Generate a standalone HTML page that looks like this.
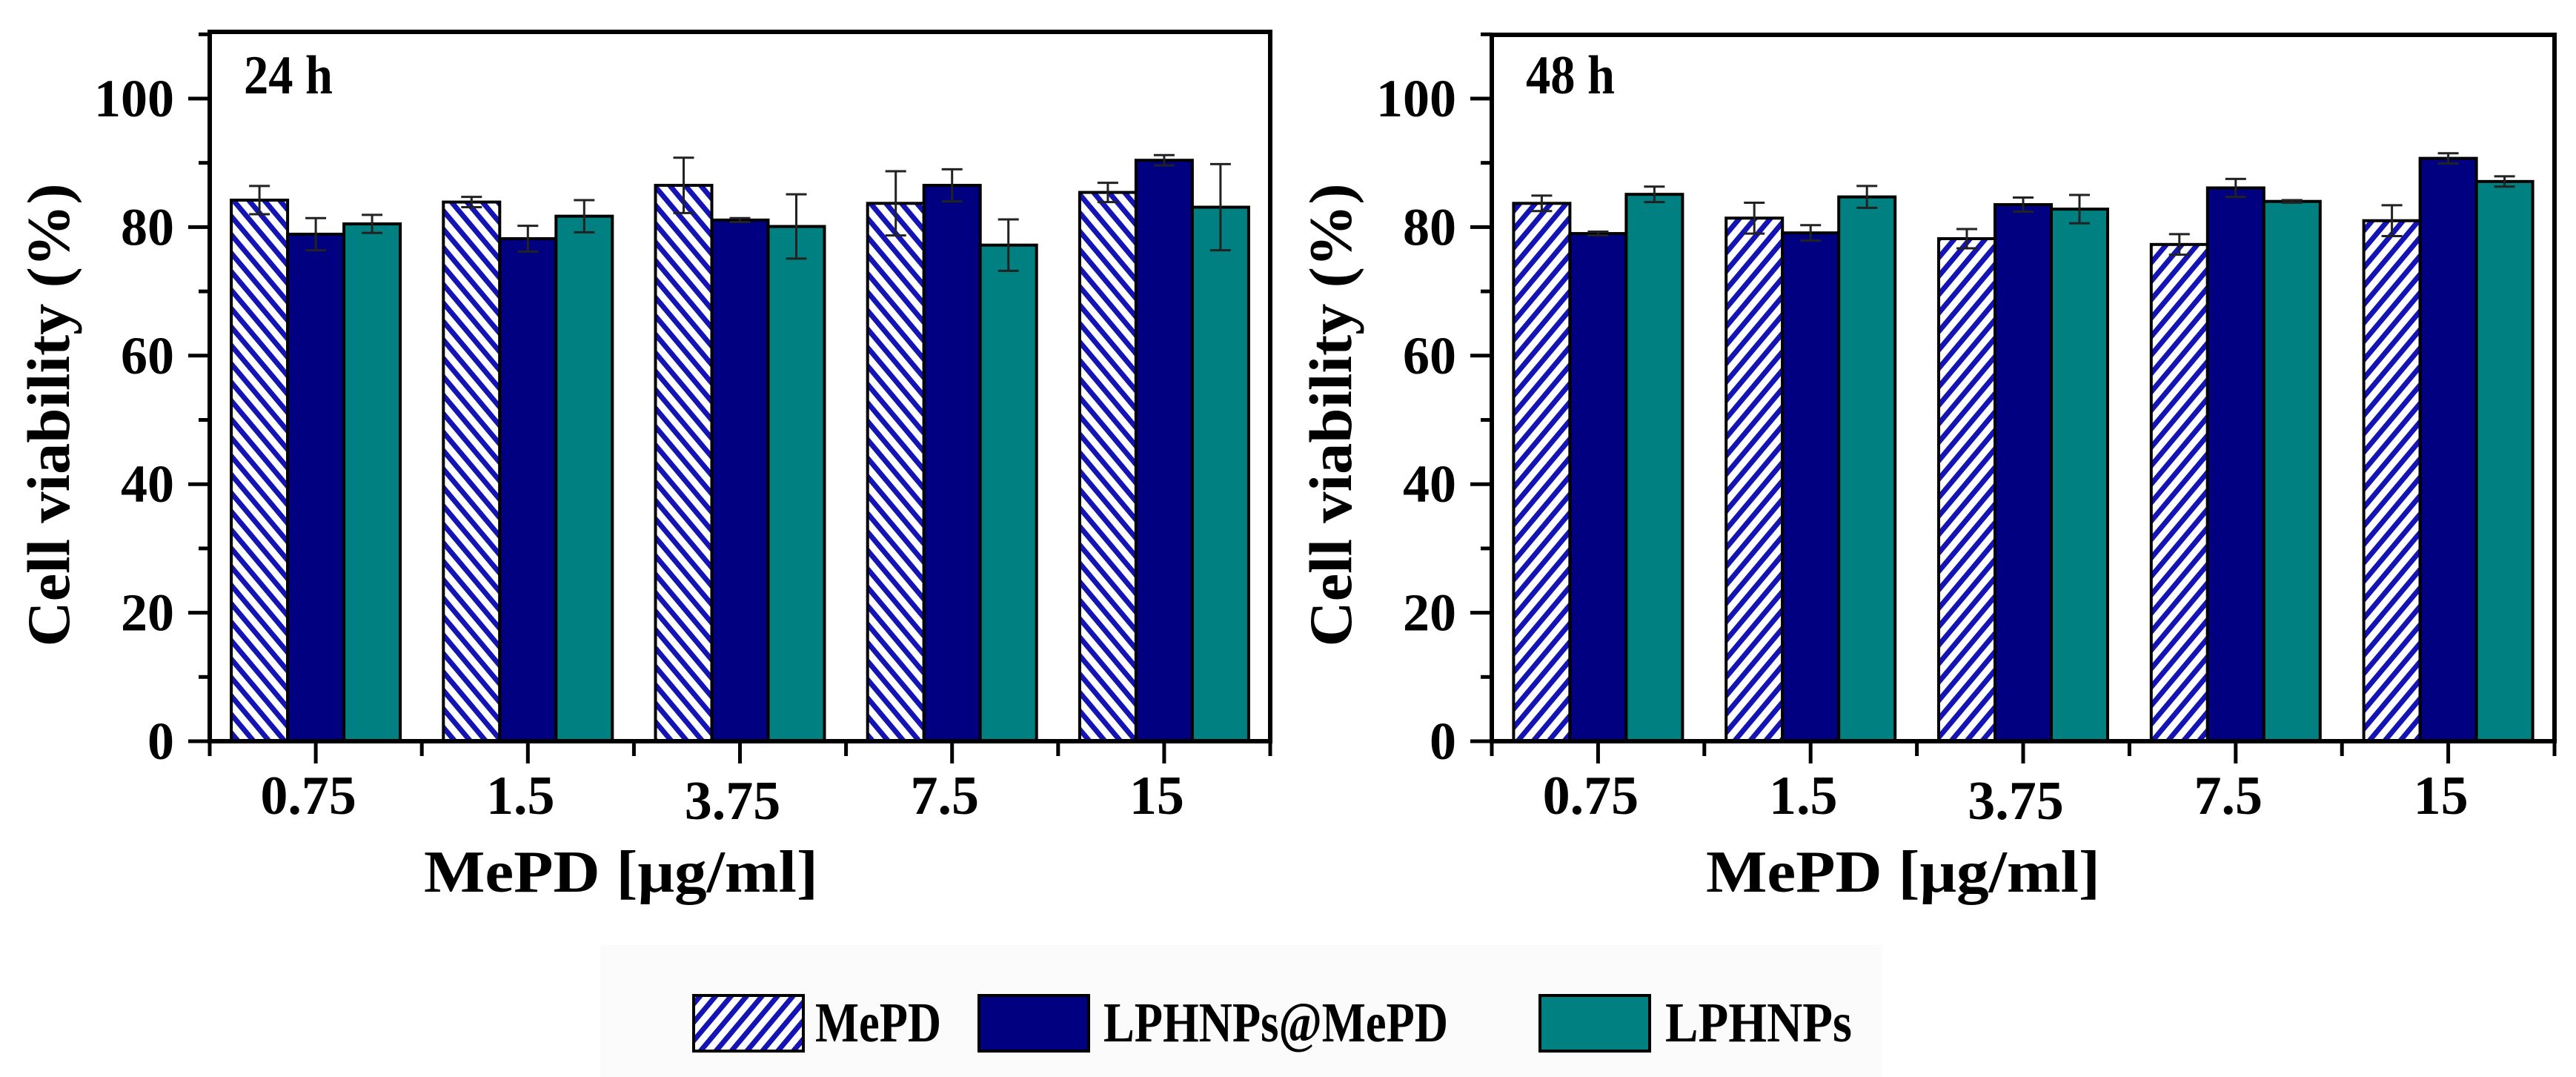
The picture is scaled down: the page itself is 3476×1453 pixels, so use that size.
<!DOCTYPE html>
<html><head><meta charset="utf-8"><style>
html,body{margin:0;padding:0;background:#fff;}
svg{display:block;font-family:"Liberation Serif","Times New Roman",serif;font-weight:bold;}
</style></head><body>
<svg id="fig" width="3476" height="1453" viewBox="0 0 3476 1453" xmlns="http://www.w3.org/2000/svg">
<defs>
<pattern id="hatchL" patternUnits="userSpaceOnUse" width="16" height="16" patternTransform="rotate(-40)">
<rect width="16" height="16" fill="#fff"/><rect width="7" height="16" fill="#1414b4"/></pattern>
<pattern id="hatchR" patternUnits="userSpaceOnUse" width="16" height="16" patternTransform="rotate(40)">
<rect width="16" height="16" fill="#fff"/><rect width="7" height="16" fill="#1414b4"/></pattern>
</defs>
<g id="panels"></g>
<g>
<rect x="810" y="1275" width="1730" height="178" fill="#fbfbfb"/>
<g>
<rect x="936" y="1343" width="148" height="75" fill="url(#hatchR)" stroke="#000" stroke-width="4"/>
<text x="1100" y="1405" font-size="76" textLength="170" lengthAdjust="spacingAndGlyphs">MePD</text>
</g>
<g>
<rect x="1321" y="1343" width="148" height="75" fill="#000080" stroke="#000" stroke-width="4"/>
<text x="1489" y="1405" font-size="76" textLength="465" lengthAdjust="spacingAndGlyphs">LPHNPs@MePD</text>
</g>
<g>
<rect x="2078" y="1343" width="148" height="75" fill="#008080" stroke="#000" stroke-width="4"/>
<text x="2247" y="1405" font-size="76" textLength="252" lengthAdjust="spacingAndGlyphs">LPHNPs</text>
</g>
</g>
</svg>
<script>
const categories = ["0.75","1.5","3.75","7.5","15"];
const yTicks = [0,20,40,60,80,100];
const seriesNames = ["MePD","LPHNPs@MePD","LPHNPs"];
const mepd24 = [84.2,83.9,86.5,83.7,85.4];
const mepd24Err = [2.2,0.8,4.3,5.0,1.5];
const lphnpsMepd24 = [78.9,78.2,81.1,86.5,90.4];
const lphnpsMepd24Err = [2.5,2.0,0.3,2.5,0.8];
const lphnps24 = [80.5,81.7,80.1,77.2,83.1];
const lphnps24Err = [1.4,2.5,5.0,4.0,6.7];
const mepd48 = [83.7,81.4,78.2,77.3,81.0];
const mepd48Err = [1.2,2.4,1.5,1.6,2.4];
const lphnpsMepd48 = [79.0,79.1,83.5,86.1,90.7];
const lphnpsMepd48Err = [0.3,1.2,1.1,1.4,0.8];
const lphnps48 = [85.1,84.7,82.8,84.0,87.1];
const lphnps48Err = [1.2,1.7,2.2,0.2,0.8];

const NS="http://www.w3.org/2000/svg";
const root=document.getElementById('panels');
function mk(tag,attrs,parent){const e=document.createElementNS(NS,tag);for(const k in attrs)e.setAttribute(k,attrs[k]);parent.appendChild(e);return e;}

function drawPanel(cfg){
  const g=mk('g',{},root);
  
  
  const x0=cfg.x0,x1=cfg.x1,yTop=cfg.yTop,yBot=1000,yMax=110;
  const yS=v=>yBot-(v/100)*(1000-133);
  const gw=(x1-x0)/categories.length;
  const xC=i=>x0+gw*(i+0.5);
  const bw=76;
  const series=[cfg.s[0],cfg.s[1],cfg.s[2]];
  const errs=[cfg.e[0],cfg.e[1],cfg.e[2]];
  const fills=[cfg.hatch,'#000080','#008080'];
  const snames=['bar-mepd','bar-lphnps-mepd','bar-lphnps'];
  for(let s=0;s<3;s++){
    for(let i=0;i<categories.length;i++){
      const cx=xC(i)+(s-1)*bw;
      const v=series[s][i];
      const r=mk('rect',{x:cx-bw/2,y:yS(v),width:bw,height:yBot-yS(v),fill:fills[s],stroke:'#000','stroke-width':4},g);
      
      
    }
  }
  for(let s=0;s<3;s++){
    for(let i=0;i<categories.length;i++){
      const cx=xC(i)+(s-1)*bw;
      const v=series[s][i],e=errs[s][i];
      const eb=mk('path',{d:`M${cx},${yS(v+e)}V${yS(v-e)}M${cx-14},${yS(v+e)}H${cx+14}M${cx-14},${yS(v-e)}H${cx+14}`,stroke:'#222','stroke-width':3,fill:'none'},g);
      
      
    }
  }
  const fr=mk('rect',{x:x0,y:yTop,width:x1-x0,height:yBot-yTop,fill:'none',stroke:'#000','stroke-width':6},g);
  
  
  for(let v=0;v<=yMax;v+=10){
    const major=v%20===0;
    const t=mk('line',{x1:x0-(major?29:15),x2:x0,y1:yS(v),y2:yS(v),stroke:'#000','stroke-width':5},g);
    
    
  }
  yTicks.forEach(v=>{
    const t=mk('text',{x:x0-48,y:yS(v)+24,'font-size':72,'text-anchor':'end'},g);
    t.textContent=String(v);
    
    
  });
  for(let i=0;i<=categories.length;i++){
    const t=mk('line',{x1:x0+gw*i,x2:x0+gw*i,y1:yBot,y2:yBot+20,stroke:'#000','stroke-width':5},g);
    
    
  }
  categories.forEach((c,i)=>{
    const t=mk('line',{x1:xC(i),x2:xC(i),y1:yBot,y2:yBot+30,stroke:'#000','stroke-width':5},g);
    
    
    const l=mk('text',{x:xC(i)-10,y:(i===2?1105:1098),'font-size':74,'text-anchor':'middle'},g);
    l.textContent=c;
    
    
  });
  const xt=mk('text',{x:x0+555,y:1203,'font-size':80,'text-anchor':'middle',textLength:532,lengthAdjust:'spacingAndGlyphs'},g);
  xt.textContent='MePD [μg/ml]';
  
  
  const yt=mk('text',{x:0,y:0,'font-size':82,'text-anchor':'middle',textLength:625,lengthAdjust:'spacingAndGlyphs',transform:`translate(${x0-190},560) rotate(-90)`},g);
  yt.textContent='Cell viability (%)';
  
  
  const pl=mk('text',{x:x0+46,y:126,'font-size':74,textLength:120,lengthAdjust:'spacingAndGlyphs'},g);
  pl.textContent=cfg.label;
  
  
}
drawPanel({name:'panel-24h',x0:283,x1:1714,yTop:43,label:'24 h',hatch:'url(#hatchL)',
  s:[mepd24,lphnpsMepd24,lphnps24],e:[mepd24Err,lphnpsMepd24Err,lphnps24Err]});
drawPanel({name:'panel-48h',x0:2013,x1:3447,yTop:47,label:'48 h',hatch:'url(#hatchR)',
  s:[mepd48,lphnpsMepd48,lphnps48],e:[mepd48Err,lphnpsMepd48Err,lphnps48Err]});
</script>
</body></html>
